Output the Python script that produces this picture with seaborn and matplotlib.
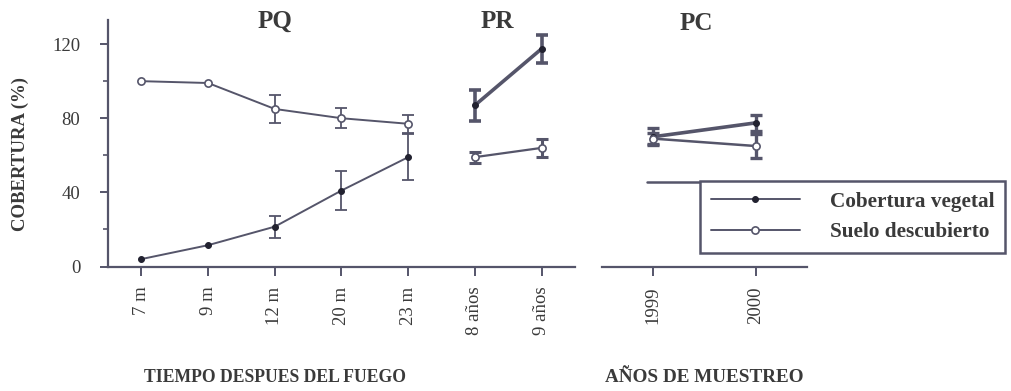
import numpy as np
import pandas as pd
import matplotlib
matplotlib.use("Agg")
import matplotlib.pyplot as plt
import matplotlib.transforms as mtransforms
from matplotlib.font_manager import FontProperties
import seaborn as sns

# ---- data -----------------------------------------------------------------
# Time after fire: PQ (months) and PR (years); PC sampled in two years
pq_labels = ["7 m", "9 m", "12 m", "20 m", "23 m"]
pr_labels = ["8 años", "9 años"]
pc_labels = ["1999", "2000"]

veg_pq = [4, 11.5, 21.5, 41, 59]
veg_pq_err = [0, 0, 6, 10.5, 12.5]
bare_pq = [100, 99, 85, 80, 77]
bare_pq_err = [0, 0, 7.5, 5.5, 5]

veg_pr = [87, 117.5]
veg_pr_err = [8.5, 7.5]
bare_pr = [59, 64]
bare_pr_err = [3, 5]

veg_pc = [70, 77.5]
veg_pc_err = [4.5, 4.5]
bare_pc = [69, 65]
bare_pc_err = [3, 6.5]

series_names = ["Cobertura vegetal", "Suelo descubierto"]

# ---- style ----------------------------------------------------------------
sns.set_theme(style="ticks")
plt.rcParams["font.family"] = ["Liberation Serif", "DejaVu Serif"]
LINE = "#55556a"
TEXT = "#3a3a3a"
plt.rcParams["axes.edgecolor"] = LINE
plt.rcParams["xtick.color"] = LINE
plt.rcParams["ytick.color"] = LINE

W, H = 1012, 391
fig = plt.figure(figsize=(W / 100, H / 100), dpi=100)
fig.patch.set_facecolor("white")


def box(x0, x1, ytop, ybot):
    return [x0 / W, 1 - ybot / H, (x1 - x0) / W, (ybot - ytop) / H]


ax1 = fig.add_axes(box(108, 575, 20, 266.5))
ax2 = fig.add_axes(box(602, 807, 20, 266.5))
YMAX = 133


def draw(ax, xs, ys, errs, filled, lw, elw, label=None):
    df = pd.DataFrame({"x": xs, "y": ys})
    kw = dict(color=LINE, lw=lw, marker="o")
    if filled:
        kw.update(markersize=4.2, markerfacecolor="#222230",
                  markeredgecolor="#222230", markeredgewidth=0.8)
    else:
        kw.update(markersize=5.2, markerfacecolor="white",
                  markeredgecolor=LINE, markeredgewidth=1.2)
    sns.lineplot(data=df, x="x", y="y", ax=ax, label=label, zorder=3, **kw)
    for x, y, e in zip(xs, ys, errs):
        if e > 0:
            ax.errorbar(x, y, yerr=e, fmt="none", ecolor=LINE,
                        elinewidth=elw, capsize=4, capthick=elw, zorder=2)


n_pq = len(pq_labels)
x_pq = list(range(n_pq))
x_pr = [n_pq + i for i in range(len(pr_labels))]
x_pc = list(range(len(pc_labels)))

draw(ax1, x_pq, veg_pq, veg_pq_err, True, 1.4, 1.3, series_names[0])
draw(ax1, x_pq, bare_pq, bare_pq_err, False, 1.4, 1.3, series_names[1])
draw(ax1, x_pr, veg_pr, veg_pr_err, True, 2.6, 2.6)
draw(ax1, x_pr, bare_pr, bare_pr_err, False, 1.6, 2.2)
draw(ax2, x_pc, veg_pc, veg_pc_err, True, 2.6, 2.4)
draw(ax2, x_pc, bare_pc, bare_pc_err, False, 1.8, 2.4)

handles, labels = ax1.get_legend_handles_labels()
for ax in (ax1, ax2):
    if ax.get_legend() is not None:
        ax.get_legend().remove()

# ---- axes -----------------------------------------------------------------
ax1.set_xlim(-0.5, n_pq + len(pr_labels) - 0.5)
ax1.set_xticks(x_pq + x_pr)
ax1.set_xticklabels(pq_labels + pr_labels)
ax2.set_xlim(-0.5, len(pc_labels) - 0.5)
ax2.set_xticks(x_pc)
ax2.set_xticklabels(pc_labels)

for ax in (ax1, ax2):
    ax.set_ylim(0, YMAX)
    ax.set_xlabel("")
    ax.set_ylabel("")
    ax.set_facecolor("white")
    ax.spines["top"].set_visible(False)
    ax.spines["right"].set_visible(False)
    ax.spines["bottom"].set_linewidth(1.6)
    ax.tick_params(axis="x", length=6.5, width=1.4, pad=8, labelrotation=90,
                   labelsize=13.5, labelcolor=TEXT)

ax1.spines["left"].set_linewidth(1.6)
ax1.set_yticks([0, 40, 80, 120])
ax1.set_yticks([20, 60, 100], minor=True)
ax1.tick_params(axis="y", which="major", length=5.8, width=1.4, pad=14,
                labelsize=13.5, labelcolor=TEXT)
ax1.tick_params(axis="y", which="minor", length=3.5, width=1.2)

ax2.spines["left"].set_visible(False)
ax2.set_yticks([])

# horizontal rule running into the legend frame
ax2.axhline(45.7, xmin=0.22, xmax=1, color=LINE, lw=1.8, zorder=1)

# ---- text -----------------------------------------------------------------
bold = dict(fontweight="bold", color=TEXT)
tr1 = mtransforms.blended_transform_factory(ax1.transData, fig.transFigure)
tr2 = mtransforms.blended_transform_factory(ax2.transData, fig.transFigure)
ax1.text(2, 1 - 21 / H, "PQ", transform=tr1, ha="center", va="center",
         fontsize=18, **bold)
ax1.text(5.33, 1 - 21 / H, "PR", transform=tr1, ha="center", va="center",
         fontsize=18, **bold)
ax2.text(0.42, 1 - 24 / H, "PC", transform=tr2, ha="center", va="center",
         fontsize=18, **bold)

ax1.text(2, 1 - 378 / H, "TIEMPO DESPUES DEL FUEGO", transform=tr1,
         ha="center", va="center", fontsize=12.7, **bold)
ax2.text(0.5, 1 - 377 / H, "AÑOS DE MUESTREO", transform=tr2,
         ha="center", va="center", fontsize=13.8, **bold)
fig.text(20 / W, 1 - 154 / H, "COBERTURA (%)", rotation=90, ha="center",
         va="center", fontsize=13.5, **bold)

# ---- legend ---------------------------------------------------------------
leg = fig.legend(handles, labels, loc="upper left",
                 bbox_to_anchor=(700 / W, 1 - 181 / H),
                 bbox_transform=fig.transFigure, borderaxespad=0,
                 frameon=True, fancybox=False, shadow=False,
                 edgecolor=LINE, facecolor="white", framealpha=1,
                 prop=FontProperties(family="Liberation Serif",
                                     weight="bold", size=15.3),
                 handlelength=4.2, handletextpad=1.4, labelspacing=0.5,
                 borderpad=0.5, numpoints=1)
leg.get_frame().set_linewidth(1.8)
for t in leg.get_texts():
    t.set_color(TEXT)

fig.savefig("out.png", dpi=100, facecolor="white")
